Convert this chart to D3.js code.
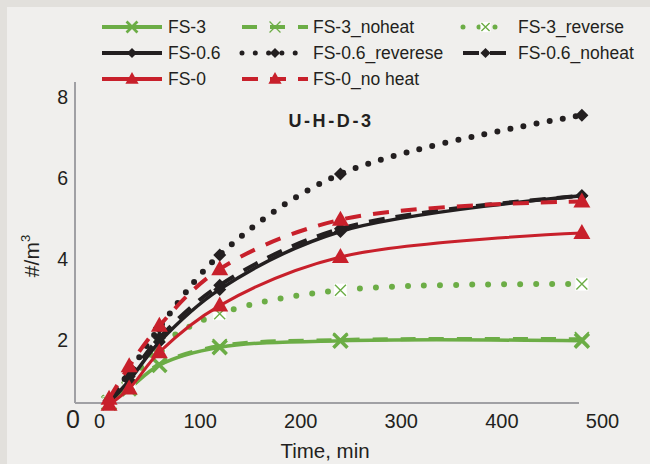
<!DOCTYPE html>
<html>
<head>
<meta charset="utf-8">
<script src="https://cdn.jsdelivr.net/npm/d3@7"></script>
<style>
body { margin: 0; background: #f0efed; }
svg { display: block; font-family: "Liberation Sans", Arial, sans-serif; }
</style>
</head>
<body>
<script>
// sampling times (min)
const times = [10, 30, 60, 120, 240, 480]

// concentration, #/m3
const fs3         = [0.45, 0.80, 1.38, 1.82, 1.98, 1.98]
const fs3Noheat   = [0.45, 0.82, 1.40, 1.85, 2.00, 2.02]
const fs3Reverse  = [0.45, 0.90, 1.85, 2.65, 3.23, 3.38]
const fs06        = [0.45, 1.00, 1.95, 3.25, 4.68, 5.56]
const fs06Reverse = [0.50, 1.20, 2.30, 4.10, 6.10, 7.55]
const fs06Noheat  = [0.50, 1.10, 2.05, 3.35, 4.75, 5.56]
const fs0         = [0.40, 0.80, 1.70, 2.85, 4.05, 4.64]
const fs0Noheat   = [0.55, 1.35, 2.35, 3.75, 4.97, 5.42]

const seriesNames = ['FS-3', 'FS-3_noheat', 'FS-3_reverse', 'FS-0.6', 'FS-0.6_reverese', 'FS-0.6_noheat', 'FS-0', 'FS-0_no heat']
const seriesValues = [fs3, fs3Noheat, fs3Reverse, fs06, fs06Reverse, fs06Noheat, fs0, fs0Noheat]

const xTicks = [0, 100, 200, 300, 400, 500]
const yTicks = [0, 2, 4, 6, 8]

const green = '#6cad46', black = '#231f20', red = '#c8202b'

// look of each series (same order as seriesNames)
const styles = [
    {color: green, width: 3.5, dash: null,       marker: 'x',     mw: 3.5},
    {color: green, width: 4,   dash: '15 13',    marker: 'x',     mw: 1.6},
    {color: green, width: 6,   dash: '0 16',     marker: 'xbox',  round: true},
    {color: black, width: 3.5, dash: null,       marker: 'diamond'},
    {color: black, width: 6,   dash: '0 13.3',   marker: 'diamond', round: true},
    {color: black, width: 4,   dash: '16 11',    marker: 'diamond'},
    {color: red,   width: 3,   dash: null,       marker: 'triangle'},
    {color: red,   width: 4,   dash: '16 12',    marker: 'triangle'}
]

const m = {width: 650, height: 464}

const svg = d3.select('body').append('svg')
    .attr('width', m.width)
    .attr('height', m.height)

// darker frame strips
svg.append('rect').attr('x', 0).attr('y', 0).attr('width', m.width).attr('height', 7).attr('fill', '#e2e0dc')
svg.append('rect').attr('x', 0).attr('y', 0).attr('width', 7).attr('height', m.height).attr('fill', '#e2e0dc')

const x = d3.scaleLinear().domain([0, 500]).range([99, 602])
const y = d3.scaleLinear().domain([0, 8]).range([421, 97])

// axis lines
svg.append('line').attr('x1', 75).attr('x2', 75).attr('y1', 82).attr('y2', 403)
    .attr('stroke', '#a0a0a4').attr('stroke-width', 2)
svg.append('line').attr('x1', 75).attr('x2', 579).attr('y1', 403).attr('y2', 403)
    .attr('stroke', '#a0a0a4').attr('stroke-width', 2)

// y tick labels
const yAxis = svg.append('g')
    .attr('transform', 'translate(68,0)')
    .call(d3.axisLeft(y).tickValues(yTicks).tickSize(0).tickPadding(0))
yAxis.select('.domain').remove()
yAxis.selectAll('text')
    .attr('font-size', 19.5).attr('fill', '#231f20').attr('font-family', null)
yAxis.selectAll('.tick').filter(d => d === 0).select('text')
    .attr('font-size', 25).attr('x', 12).attr('dy', '0.25em')

// x tick labels
const xAxis = svg.append('g')
    .attr('transform', 'translate(0,421)')
    .call(d3.axisBottom(x).tickValues(xTicks).tickSize(0).tickPadding(0))
xAxis.select('.domain').remove()
xAxis.selectAll('text')
    .attr('y', 0).attr('dy', '0.36em')
    .attr('font-size', 20).attr('fill', '#231f20').attr('font-family', null)

// axis titles
svg.append('text')
    .attr('x', 325).attr('y', 458)
    .attr('text-anchor', 'middle')
    .attr('font-size', 20.5).attr('fill', '#231f20')
    .text('Time, min')

const yt = svg.append('text')
    .attr('transform', 'translate(39,256) rotate(-90)')
    .attr('text-anchor', 'middle')
    .attr('font-size', 21).attr('fill', '#231f20')
yt.append('tspan').text('#/m')
yt.append('tspan').attr('font-size', 13).attr('dy', -9).text('3')

svg.append('text')
    .attr('x', 331).attr('y', 127)
    .attr('text-anchor', 'middle')
    .attr('font-size', 18).attr('font-weight', 'bold')
    .attr('letter-spacing', 2.6)
    .attr('fill', '#231f20')
    .text('U-H-D-3')

function drawMarker(sel, st, k) {
    if (st.marker === 'x') {
        const s = 7 * k
        sel.append('path')
            .attr('d', `M${-s},${-s}L${s},${s}M${-s},${s}L${s},${-s}`)
            .attr('stroke', st.color).attr('stroke-width', st.mw * k).attr('fill', 'none')
    } else if (st.marker === 'xbox') {
        const s = 6.5 * k
        sel.append('rect').attr('x', -s).attr('y', -s).attr('width', 2 * s).attr('height', 2 * s)
            .attr('fill', '#ffffff')
        sel.append('path')
            .attr('d', `M${-s + 1},${-s + 1}L${s - 1},${s - 1}M${-s + 1},${s - 1}L${s - 1},${-s + 1}`)
            .attr('stroke', st.color).attr('stroke-width', 1.4).attr('fill', 'none')
    } else if (st.marker === 'diamond') {
        const s = 6.5 * k
        sel.append('path')
            .attr('d', `M0,${-s}L${s},0L0,${s}L${-s},0Z`)
            .attr('fill', st.color)
    } else {
        const w = 8.5 * k, h = 15 * k
        sel.append('path')
            .attr('d', `M0,${-h * 0.6}L${w},${h * 0.4}L${-w},${h * 0.4}Z`)
            .attr('fill', st.color)
    }
}

const line = d3.line()
    .x((d, i) => x(times[i]))
    .y(d => y(d))
    .curve(d3.curveCatmullRom)

seriesValues.forEach(function(vals, si) {
    const st = styles[si]
    svg.append('path')
        .datum(vals)
        .attr('d', line)
        .attr('fill', 'none')
        .attr('stroke', st.color)
        .attr('stroke-width', st.width)
        .attr('stroke-dasharray', st.dash)
        .attr('stroke-linecap', st.round ? 'round' : 'butt')

    svg.selectAll('.mk' + si)
        .data(vals)
        .enter()
        .append('g')
            .attr('class', 'mk' + si)
            .attr('transform', (d, i) => `translate(${x(times[i])},${y(d)})`)
            .each(function() { drawMarker(d3.select(this), st, 1) })
})

// legend, 3 columns
const legCols = [{x0: 102, x1: 162, tx: 168}, {x0: 242, x1: 308, tx: 313}, {x0: 463, x1: 508, tx: 518}]

seriesNames.forEach(function(name, i) {
    const st = styles[i]
    const c = legCols[i % 3]
    const ly = 27 + Math.floor(i / 3) * 26
    const g = svg.append('g')
    g.append('line')
        .attr('x1', c.x0).attr('x2', c.x1).attr('y1', ly).attr('y2', ly)
        .attr('stroke', st.color)
        .attr('stroke-width', st.round ? 5 : 4)
        .attr('stroke-dasharray', st.dash)
        .attr('stroke-linecap', st.round ? 'round' : 'butt')
    const mg = g.append('g').attr('transform', `translate(${(c.x0 + c.x1) / 2},${ly})`)
    drawMarker(mg, st, 0.78)
    g.append('text')
        .attr('x', c.tx).attr('y', ly).attr('dy', '0.35em')
        .attr('font-size', 17.5).attr('fill', '#231f20')
        .text(name)
})
</script>
</body>
</html>
